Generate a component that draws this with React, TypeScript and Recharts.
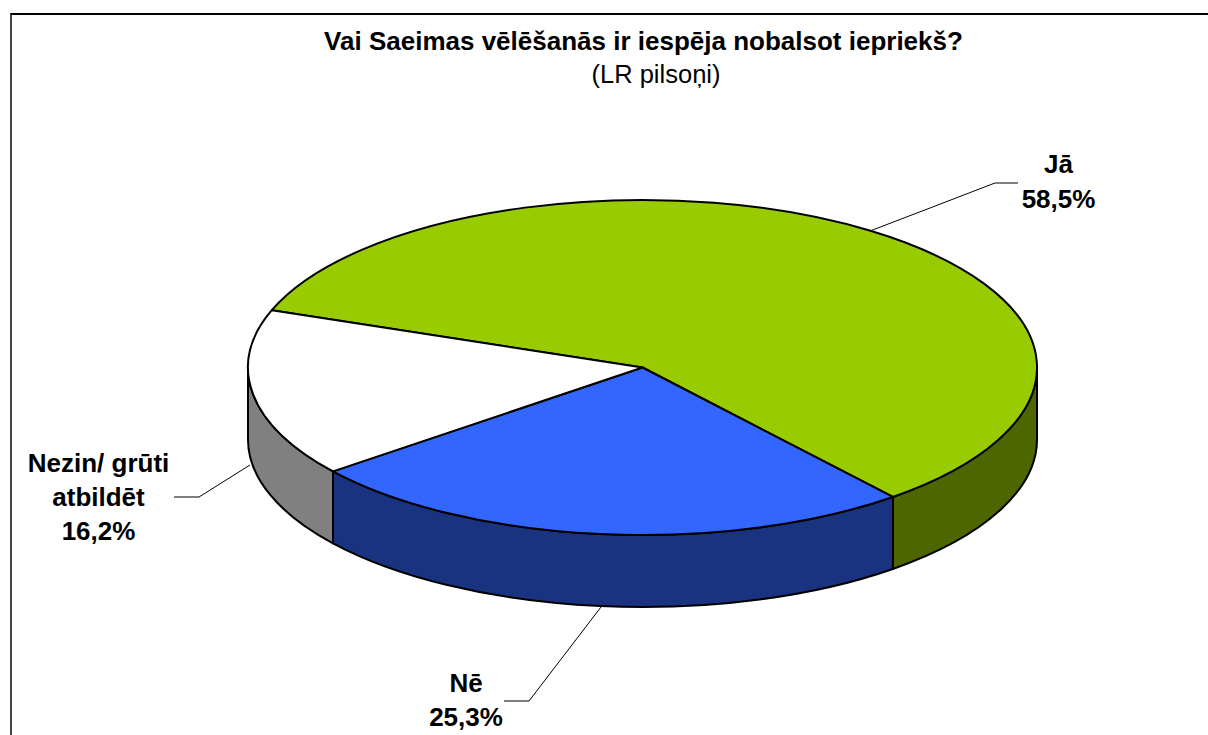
import React from "react";
import { PieChart, Pie, Cell } from "recharts";

const categories = ["Jā", "Nē", "Nezin/ grūti atbildēt"];
const values = [58.5, 25.3, 16.2];
const valueLabels = ["58,5%", "25,3%", "16,2%"];
const labelLines = [["Jā"], ["Nē"], ["Nezin/ grūti", "atbildēt"]];
const topColors = ["#99CC00", "#3366FF", "#FFFFFF"];
const wallColors = ["#4D6600", "#1A3380", "#808080"];
const titleText = "Vai Saeimas vēlēšanās ir iespēja nobalsot iepriekš?";
const subtitleText = "(LR pilsoņi)";

const rows = categories.map((name, i) => ({ name, value: values[i], index: i }));

const SQUASH = 167.5 / 394.5;
const DEPTH = 72;
const FONT = "'Liberation Sans', Arial, sans-serif";
const RAD = Math.PI / 180;

// Leader line geometry and text placement for each callout.
const callouts = [
  { line: [[870, 231], [995, 183], [1018, 183]], x: 1058.5, y: [173, 208] },
  { line: [[601, 607], [529, 701], [504, 701]], x: 466, y: [692, 726] },
  { line: [[250, 465], [199, 497], [174, 497]], x: 98.5, y: [472, 506, 540] },
];

function Slab(props: any) {
  const { cx, cy, outerRadius: rx, startAngle: s, endAngle: e, payload } = props;
  const i = payload.index;
  const ry = rx * SQUASH;
  const pt = (a: number) => [cx + rx * Math.cos(a * RAD), cy - ry * Math.sin(a * RAD)];
  const [sx, sy] = pt(s);
  const [ex, ey] = pt(e);
  const large = Math.abs(s - e) > 180 ? 1 : 0;
  const top = `M${cx},${cy} L${sx},${sy} A${rx},${ry} 0 ${large} 1 ${ex},${ey} Z`;
  const hi = Math.min(s, 0);
  const lo = Math.max(e, -180);
  let wall = null;
  if (hi > lo) {
    const [ax, ay] = pt(hi);
    const [bx, by] = pt(lo);
    const d = `M${ax},${ay} A${rx},${ry} 0 0 1 ${bx},${by} L${bx},${by + DEPTH} A${rx},${ry} 0 0 0 ${ax},${ay + DEPTH} Z`;
    wall = <path d={d} fill={wallColors[i]} stroke="#000" strokeWidth={2} strokeLinejoin="round" />;
  }
  return (
    <g>
      {wall}
      <path d={top} fill={topColors[i]} stroke="#000" strokeWidth={2} strokeLinejoin="round" />
    </g>
  );
}

function Callout(props: any) {
  const i = props.payload?.index ?? props.index;
  const c = callouts[i];
  const lines = [...labelLines[i], valueLabels[i]];
  return (
    <g>
      <polyline points={c.line.map((p) => p.join(",")).join(" ")} fill="none" stroke="#000" strokeWidth={1} />
      {lines.map((t, k) => (
        <text key={k} x={c.x} y={c.y[k]} textAnchor="middle" fontFamily={FONT} fontWeight="bold" fontSize={26} fill="#000">
          {t}
        </text>
      ))}
    </g>
  );
}

export default function App() {
  return (
    <div style={{ position: "absolute", left: 0, top: 0, width: 1208, height: 735, background: "#fff", overflow: "hidden" }}>
      <div style={{ position: "absolute", left: 10, top: 13, width: 1300, height: 800, borderTop: "2px solid #000", borderLeft: "2px solid #444" }} />
      <div style={{ position: "absolute", left: 0, top: 0 }}>
        <PieChart width={1208} height={735} margin={{ top: 0, right: 0, bottom: 0, left: 0 }}>
          <text x={643.5} y={50} textAnchor="middle" fontFamily={FONT} fontWeight="bold" fontSize={26} fill="#000">{titleText}</text>
          <text x={656} y={83} textAnchor="middle" fontFamily={FONT} fontSize={25.5} fill="#000">{subtitleText}</text>
          <Pie
            data={rows}
            dataKey="value"
            nameKey="name"
            cx={642.5}
            cy={367.5}
            innerRadius={0}
            outerRadius={394.5}
            startAngle={160}
            endAngle={-200}
            stroke="none"
            isAnimationActive={false}
            shape={Slab}
            label={Callout}
            labelLine={false}
          >
            {rows.map((r) => <Cell key={r.name} fill={topColors[r.index]} />)}
          </Pie>
        </PieChart>
      </div>
    </div>
  );
}
